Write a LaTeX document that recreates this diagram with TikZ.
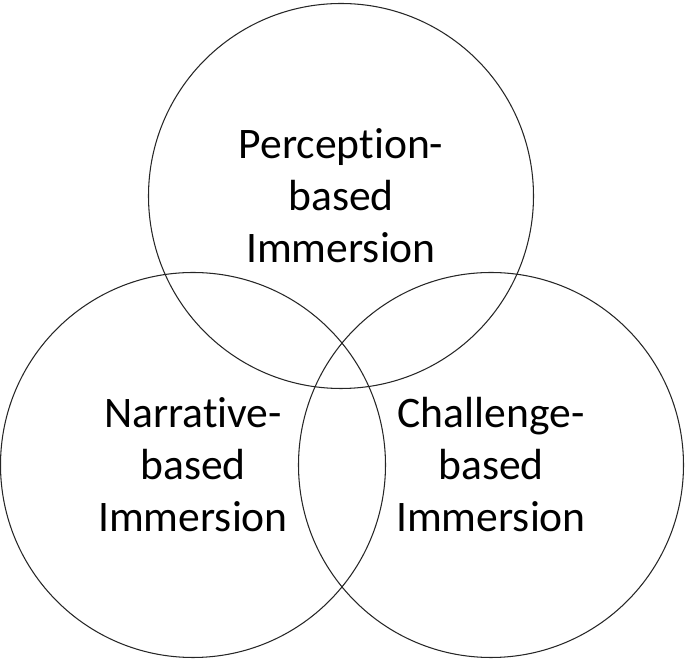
\documentclass[tikz,border=0pt]{standalone}
\usepackage{fontspec}
\setmainfont{Carlito}[Ligatures=NoCommon]
\usepackage{tikz}
\usetikzlibrary{positioning}

\begin{document}
\begin{tikzpicture}[
  % circle style
  ring/.style={draw=black!85, line width=0.6pt, circle, minimum size=7.7cm,
               inner sep=0pt, align=center,
               font=\fontsize{24.8}{29.6}\selectfont},
]
\useasboundingbox (0,0) rectangle (13.7,13.22);

% ---- THREE CIRCLES ----
\node[ring] (perc) at (6.82, 9.30) {Perception-\\based\\Immersion};
\node[ring] (narr) at (3.86, 3.92) {Narrative-\\based\\Immersion};
\node[ring] (chal) at (9.82, 3.92) {Challenge-\\based\\Immersion};

\end{tikzpicture}
\end{document}
